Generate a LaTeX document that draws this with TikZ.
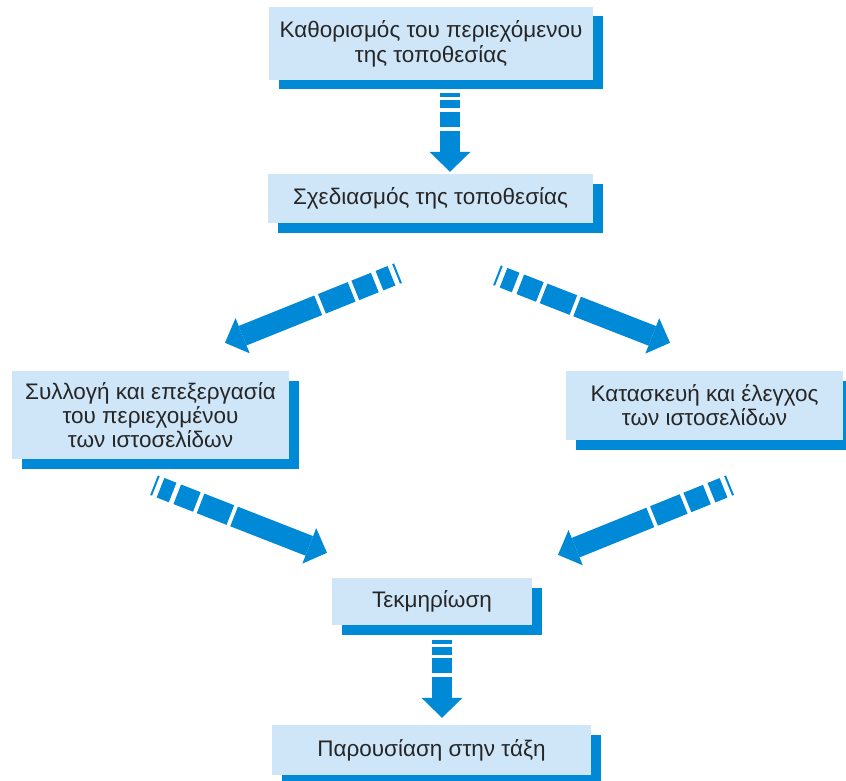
\documentclass[tikz,border=0pt]{standalone}
\usepackage{fontspec}
\setmainfont{Liberation Sans}
\usetikzlibrary{calc,shadows}

\definecolor{boxfill}{RGB}{207,230,249}
\definecolor{flowblue}{RGB}{0,137,214}
\definecolor{textgray}{RGB}{38,38,38}

% Block arrow made of stripes: tail, tip, stripe list (a/b), start of solid shaft,
% head length, head half-width, shaft half-width
\newcommand\stripedarrow[7]{%
  \path let \p1=($(#2)-(#1)$) in \pgfextra{%
    \pgfmathsetmacro\tmpang{atan2(\y1,\x1)}\global\let\arrang\tmpang
    \pgfmathsetmacro\tmplen{veclen(\x1,\y1)}\global\let\arrlen\tmplen};
  \begin{scope}[shift={(#1)},rotate=\arrang]
    \foreach \a/\b in {#3} \fill[flowblue] (\a,-#7) rectangle (\b,#7);
    \fill[flowblue] (#4,-#7) rectangle ({\arrlen-#5},#7);
    \fill[flowblue] ({\arrlen-#5},-#6) -- (\arrlen,0) -- ({\arrlen-#5},#6) -- cycle;
  \end{scope}}

\tikzset{
  box/.style={fill=boxfill, text=textgray, align=center, inner sep=0pt,
    font=\fontsize{22.5}{24}\selectfont,
    drop shadow={shadow xshift=9.5pt, shadow yshift=-9.5pt, fill=flowblue, opacity=1}},
}

\begin{document}
\begin{tikzpicture}[x=1pt,y=-1pt]
  \useasboundingbox (0,0) rectangle (846,781);

  % boxes
  \node[box, minimum width=324pt, minimum height=73pt] (n1) at (431,43.5)
    {Καθορισμός του περιεχόμενου\\[1pt]της τοποθεσίας};
  \node[box, minimum width=325pt, minimum height=49pt] (n2) at (430.5,198.5)
    {Σχεδιασμός της τοποθεσίας};
  \node[box, minimum width=277pt, minimum height=88pt] (n3) at (150.5,415)
    {Συλλογή και επεξεργασία\\του περιεχομένου\\των ιστοσελίδων};
  \node[box, minimum width=277pt, minimum height=69pt] (n4) at (704.5,405.5)
    {Κατασκευή και έλεγχος\\των ιστοσελίδων};
  \node[box, minimum width=200pt, minimum height=47pt] (n5) at (432,601.5)
    {Τεκμηρίωση};
  \node[box, minimum width=319pt, minimum height=50pt] (n6) at (431.5,750)
    {Παρουσίαση στην τάξη};

  % arrow ends
  \coordinate (a1s) at ($(n1.south)+(19,13)$);
  \coordinate (a1e) at ($(n2.north)+(19.5,-2)$);
  \coordinate (a2s) at ($(n2.south)+(-32.5,50)$);
  \coordinate (a2e) at ($(n3.north)+(74.5,-28)$);
  \coordinate (a3s) at ($(n2.south)+(66.5,52)$);
  \coordinate (a3e) at ($(n4.north)+(-34.5,-28)$);
  \coordinate (a4s) at ($(n3.south)+(3.5,26)$);
  \coordinate (a4e) at ($(n5.north)+(-105,-25)$);
  \coordinate (a5s) at ($(n4.south)+(25.5,45)$);
  \coordinate (a5e) at ($(n5.north)+(126,-23)$);
  \coordinate (a6s) at ($(n5.south)+(10,15)$);
  \coordinate (a6e) at ($(n6.north)+(10.5,-7)$);

  % arrows
  \stripedarrow{a1s}{a1e}{0/4,7/15,19/34}{38}{20}{20.5}{10}
  \stripedarrow{a6s}{a6e}{0/4,7/15,18/33}{37}{20}{20.5}{10}
  \stripedarrow{a2s}{a2e}{0/2,7/20,25/46,50/82}{86}{19}{19}{10.5}
  \stripedarrow{a3s}{a3e}{0/2,7/20,25/46,50/82}{86}{19}{19}{10.5}
  \stripedarrow{a4s}{a4e}{0/2,7/20,25/46,50/82}{86}{19}{19}{10.5}
  \stripedarrow{a5s}{a5e}{0/2,7/20,25/46,50/82}{86}{19}{19}{10.5}
\end{tikzpicture}
\end{document}
